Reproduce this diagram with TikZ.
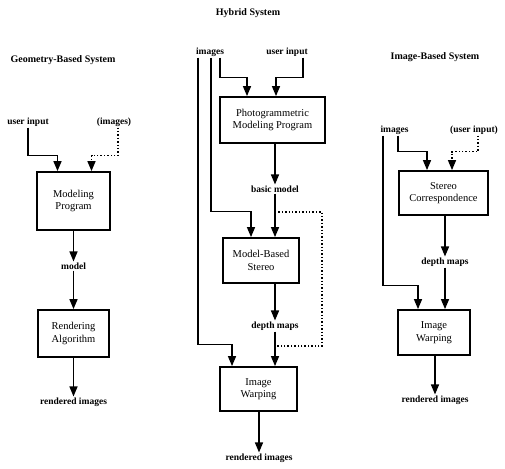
\documentclass[tikz,border=0pt]{standalone}
\usepackage{fontspec}
\setmainfont{Liberation Serif}
\usetikzlibrary{arrows.meta}
\tikzset{
	box/.style={draw, line width=1.8pt, align=center, inner sep=1pt, font=\fontsize{10.5}{12.5}\selectfont},
	lbl/.style={inner sep=1pt, font=\fontsize{9.5}{11}\selectfont\bfseries},
	ttl/.style={inner sep=1pt, font=\fontsize{10}{12}\selectfont\bfseries},
	arr/.style={line width=1.4pt, -{Triangle[length=10pt,width=8pt]}},
	dotarr/.style={arr, dotted},
	dotline/.style={line width=1.4pt, dotted}
}
\begin{document}
\begin{tikzpicture}[x=1pt,y=-1pt]
	\useasboundingbox (0,0) rectangle (505,468);
	% geometry-based
	\node [ttl] (gTitle) at (63,60) {Geometry-Based System};
	\node [lbl] (gUser) at (28,122) {user input};
	\node [lbl] (gImg) at (114,122) {(images)};
	\node [box, minimum width=73pt, minimum height=58pt] (gModel) at (73.5,201) {Modeling\\Program};
	\node [lbl] (gModelOut) at (73.5,266) {model};
	\node [box, minimum width=71pt, minimum height=47pt] (gRender) at (73.5,333.5) {Rendering\\Algorithm};
	\node [lbl] (gOut) at (73.5,402) {rendered images};
	\draw [arr] (gUser.south) -- ++(0,28) -| ([xshift=-16pt]gModel.north);
	\draw [dotarr] ([xshift=4pt]gImg.south) -- ++(0,28) -| ([xshift=18pt]gModel.north);
	\draw [arr] (gModel.south) -- (gModelOut.north);
	\draw [arr] (gModelOut.south) -- (gRender.north);
	\draw [arr] (gRender.south) -- (gOut.north);
	% hybrid
	\node [ttl] (hTitle) at (248,13) {Hybrid System};
	\node [lbl] (hImg) at (210,52) {images};
	\node [lbl] (hUser) at (287,52) {user input};
	\node [box, minimum width=105pt, minimum height=46pt] (hPhoto) at (272.5,120) {Photogrammetric\\Modeling Program};
	\node [lbl] (hBasic) at (275,189) {basic model};
	\node [box, minimum width=76pt, minimum height=45pt] (hStereo) at (261,260.5) {Model-Based\\Stereo};
	\node [lbl] (hDepth) at (275,326) {depth maps};
	\node [box, minimum width=77pt, minimum height=44pt] (hWarp) at (258.5,389) {Image\\Warping};
	\node [lbl] (hOut) at (259,458) {rendered images};
	\coordinate (hTop) at (322,212);
	\coordinate (hBot) at (322,346);
	\draw [arr] ([xshift=10pt]hImg.south) -- ++(0,20) -| ([xshift=-25.5pt]hPhoto.north);
	\draw [arr] ([xshift=16pt]hUser.south) -- ++(0,20) -| ([xshift=3.5pt]hPhoto.north);
	\draw [arr] ([xshift=1pt]hImg.south) -- ++(0,154) -| ([xshift=-10pt]hStereo.north);
	\draw [arr] ([xshift=-12pt]hImg.south) -- ++(0,287) -| ([xshift=-26.5pt]hWarp.north);
	\draw [arr] (hPhoto.south -| hBasic) -- (hBasic.north);
	\draw [arr] (hBasic.south) -- (hBasic.south |- hStereo.north);
	\draw [dotline] (hBasic.south |- hTop) -- (hTop) -- (hBot) -- (hBot -| hDepth.south);
	\draw [arr] (hStereo.south -| hDepth) -- (hDepth.north);
	\draw [arr] (hDepth.south) -- (hDepth.south |- hWarp.north);
	\draw [arr] (hWarp.south -| hOut) -- (hOut.north);
	% image-based
	\node [ttl] (iTitle) at (435,57) {Image-Based System};
	\node [lbl] (iImg) at (394.5,130) {images};
	\node [lbl] (iUser) at (474,130) {(user input)};
	\node [box, minimum width=89pt, minimum height=44pt] (iCorr) at (443.5,193) {Stereo\\Correspondence};
	\node [lbl] (iDepth) at (445,262) {depth maps};
	\node [box, minimum width=72pt, minimum height=45pt] (iWarp) at (434,332.5) {Image\\Warping};
	\node [lbl] (iOut) at (435,400) {rendered images};
	\draw [arr] ([xshift=3.5pt]iImg.south) -- ++(0,16) -| ([xshift=-16.5pt]iCorr.north);
	\draw [dotarr] ([xshift=4pt]iUser.south) -- ++(0,16) -| ([xshift=8.5pt]iCorr.north);
	\draw [arr] ([xshift=-11.5pt]iImg.south) -- ++(0,150) -| ([xshift=-16pt]iWarp.north);
	\draw [arr] (iCorr.south -| iDepth) -- (iDepth.north);
	\draw [arr] (iDepth.south) -- (iDepth.south |- iWarp.north);
	\draw [arr] (iWarp.south -| iOut) -- (iOut.north);
\end{tikzpicture}
\end{document}
